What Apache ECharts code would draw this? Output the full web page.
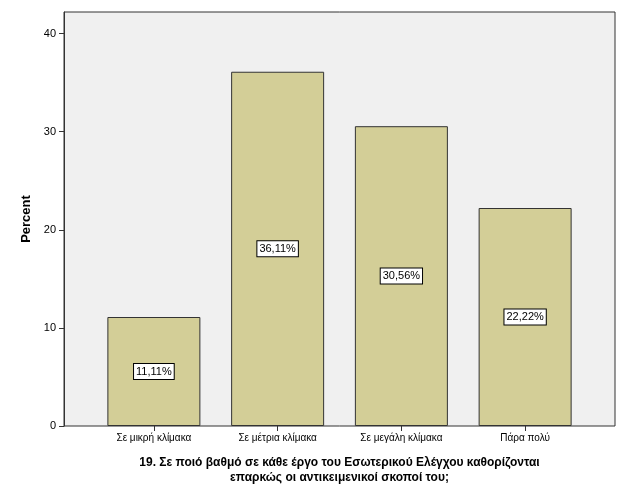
<!DOCTYPE html><html><head><meta charset="utf-8"><script src="https://cdn.jsdelivr.net/npm/echarts@6/dist/echarts.min.js"></script></head><body style="margin:0"><div id="c" style="width:629px;height:504px"></div><script>
const categories=["Σε μικρή κλίμακα","Σε μέτρια κλίμακα","Σε μεγάλη κλίμακα","Πάρα πολύ"];
const percents=[11.11,36.11,30.56,22.22];
const labels=["11,11%","36,11%","30,56%","22,22%"];
const yTicks=[0,10,20,30,40];
const ch=echarts.init(document.getElementById('c'));
const F='Arial, "Liberation Sans", sans-serif';
ch.setOption({animation:false,backgroundColor:'#fff',
grid:[{left:64,right:14,top:12,bottom:78,show:true,backgroundColor:'#F0F0F0',borderColor:'#333',borderWidth:1},
{left:92,right:42,top:12,bottom:78}],
xAxis:[{gridIndex:0,type:'value',show:false,min:0,max:1},
{gridIndex:1,type:'category',data:categories,axisLine:{show:false},axisTick:{show:true,alignWithLabel:true,length:5,lineStyle:{color:'#333'}},axisLabel:{color:'#000',fontFamily:F,fontSize:10,margin:7},
name:'19. Σε ποιό βαθμό σε κάθε έργο του Εσωτερικού Ελέγχου καθορίζονται\nεπαρκώς οι αντικειμενικοί σκοποί του;',nameLocation:'middle',nameGap:29,nameTextStyle:{fontFamily:F,fontWeight:'bold',fontSize:12,color:'#000',lineHeight:15}}],
yAxis:[{gridIndex:0,type:'value',min:0,max:42.2,splitLine:{show:false},axisLine:{show:true,lineStyle:{color:'#333'}},axisTick:{show:true,length:5,customValues:yTicks,lineStyle:{color:'#333'}},axisLabel:{color:'#000',fontFamily:F,fontSize:11,customValues:yTicks},
name:'Percent',nameLocation:'middle',nameGap:27,nameTextStyle:{fontFamily:F,fontWeight:'bold',fontSize:13,color:'#000'}},
{gridIndex:1,type:'value',min:0,max:42.2,show:false}],
series:[{type:'bar',xAxisIndex:1,yAxisIndex:1,data:percents,barWidth:93,itemStyle:{color:'#D3CE97',borderColor:'#333',borderWidth:1},
label:{show:true,position:'inside',formatter:p=>labels[p.dataIndex],color:'#000',fontFamily:F,fontSize:11,backgroundColor:'#fff',borderColor:'#000',borderWidth:1,padding:[2,2]}}]});
</script></body></html>
